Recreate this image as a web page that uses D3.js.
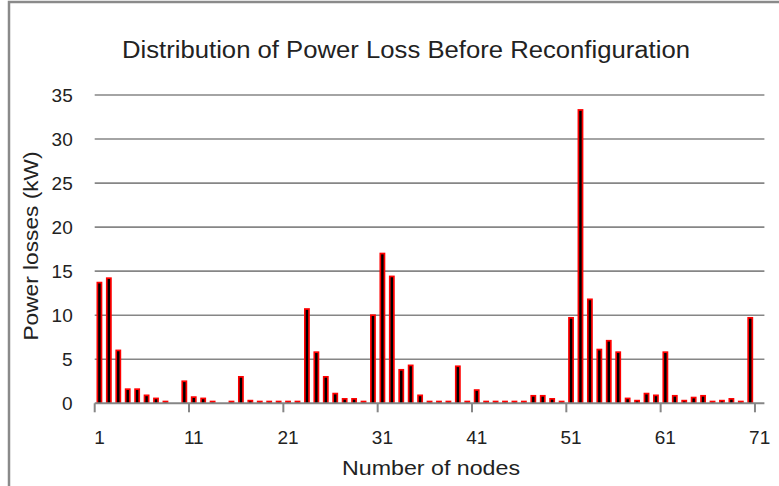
<!DOCTYPE html>
<html>
<head>
<meta charset="utf-8">
<script src="https://cdn.jsdelivr.net/npm/d3@7"></script>
<style>
  body { margin: 0; background: #fff; }
  text { font-family: "Liberation Sans Narrow", "Liberation Sans", Arial, sans-serif; fill: #222; }
</style>
</head>
<body>
<svg id="chart" width="779" height="486"></svg>
<script>
// node numbers (categories) and losses
var nodes = d3.range(1, 72);
var losses = [13.8, 14.3, 6.1, 1.7, 1.7, 1.0, 0.65, 0.3, 0, 2.6,
              0.8, 0.65, 0.3, 0, 0.3, 3.1, 0.4, 0.3, 0.3, 0.3,
              0.3, 0.3, 10.8, 5.9, 3.1, 1.2, 0.6, 0.6, 0.3, 10.1,
              17.1, 14.5, 3.9, 4.4, 1.0, 0.3, 0.3, 0.3, 4.3, 0.3,
              1.6, 0.3, 0.3, 0.3, 0.3, 0.3, 0.95, 0.95, 0.6, 0.3,
              9.8, 33.4, 11.9, 6.2, 7.2, 5.9, 0.65, 0.4, 1.2, 1.0,
              5.9, 0.95, 0.4, 0.75, 0.95, 0.3, 0.4, 0.6, 0.3, 9.8,
              0];
var xTickLabels = [1, 11, 21, 31, 41, 51, 61, 71];
var yTicks = [0, 5, 10, 15, 20, 25, 30, 35];

var title = "Distribution of Power Loss Before Reconfiguration";
var xTitle = "Number of nodes";
var yTitle = "Power losses (kW)";

var svg = d3.select("#chart");
var data = nodes.map((n, i) => ({node: n, value: losses[i]}));

var plot = {left: 94.7, right: 764.4, top: 95, bottom: 403.3};

var x = d3.scaleBand()
    .domain(nodes)
    .range([plot.left, plot.right])
    .padding(0);
var y = d3.scaleLinear()
    .domain([0, 35])
    .range([plot.bottom, plot.top]);

// outer frame (cut off at right and bottom)
svg.append("path")
    .attr("d", "M9,486 L9,2 L779,2")
    .attr("fill", "none")
    .attr("stroke", "#8a8a8a")
    .attr("stroke-width", 2.5);

// gridlines
svg.append("g")
    .selectAll("line")
    .data(yTicks.filter(t => t > 0))
    .join("line")
    .attr("x1", plot.left)
    .attr("x2", plot.right)
    .attr("y1", d => y(d))
    .attr("y2", d => y(d))
    .attr("stroke", "#868686")
    .attr("stroke-width", 1.6);

// bars: red body with black core
var bw = x.bandwidth() * 0.62;
var inset = 1.7;
var bars = svg.append("g").selectAll("g")
    .data(data.filter(d => d.value > 0))
    .join("g");
bars.append("rect")
    .attr("x", d => x(d.node) + (x.bandwidth() - bw) / 2)
    .attr("y", d => y(d.value))
    .attr("width", bw)
    .attr("height", d => y(0) - y(d.value))
    .attr("fill", "#ff0000");
bars.append("rect")
    .attr("x", d => x(d.node) + (x.bandwidth() - bw) / 2 + inset)
    .attr("y", d => y(d.value) + inset)
    .attr("width", bw - 2 * inset)
    .attr("height", d => Math.max(0, y(0) - y(d.value) - inset))
    .attr("fill", "#000");

// x axis baseline and boundary ticks
svg.append("line")
    .attr("x1", plot.left)
    .attr("x2", plot.right)
    .attr("y1", y(0))
    .attr("y2", y(0))
    .attr("stroke", "#868686")
    .attr("stroke-width", 2);
svg.append("g")
    .selectAll("line")
    .data(xTickLabels)
    .join("line")
    .attr("x1", d => x(d))
    .attr("x2", d => x(d))
    .attr("y1", y(0))
    .attr("y2", y(0) + 9)
    .attr("stroke", "#868686")
    .attr("stroke-width", 2);

// x labels (centred on category)
var xAxis = d3.axisBottom(x).tickValues(xTickLabels).tickSize(0).tickPadding(41);
var gx = svg.append("g")
    .attr("transform", "translate(0," + y(0) + ")")
    .call(xAxis);
gx.select(".domain").remove();
gx.selectAll("text")
    .style("font-size", "19px")
    .attr("dy", "0")
    .attr("fill", "#222");

// y labels
var yAxis = d3.axisLeft(y).tickValues(yTicks).tickSize(0).tickPadding(22);
var gy = svg.append("g")
    .attr("transform", "translate(" + plot.left + ",0)")
    .call(yAxis);
gy.select(".domain").remove();
gy.selectAll("text")
    .style("font-size", "19px")
    .attr("fill", "#222");

// titles
svg.append("text")
    .attr("x", 406)
    .attr("y", 58)
    .attr("text-anchor", "middle")
    .attr("textLength", 568)
    .attr("lengthAdjust", "spacingAndGlyphs")
    .style("font-size", "23px")
    .text(title);

svg.append("text")
    .attr("x", 431)
    .attr("y", 475)
    .attr("text-anchor", "middle")
    .attr("textLength", 178)
    .attr("lengthAdjust", "spacingAndGlyphs")
    .style("font-size", "20px")
    .text(xTitle);

svg.append("text")
    .attr("transform", "translate(38,246) rotate(-90)")
    .attr("text-anchor", "middle")
    .attr("textLength", 189)
    .attr("lengthAdjust", "spacingAndGlyphs")
    .style("font-size", "20px")
    .text(yTitle);
</script>
</body>
</html>
